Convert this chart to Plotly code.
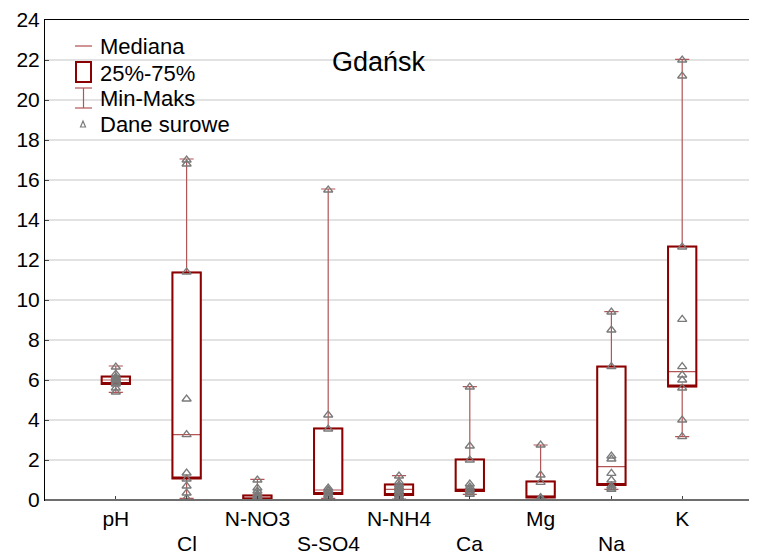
import plotly.graph_objects as go

# ---- data ----
categories = ["pH", "Cl", "N-NO3", "S-SO4", "N-NH4", "Ca", "Mg", "Na", "K"]
mins   = [5.38, 0.08, 0.02, 0.08, 0.05, 0.28, 0.03, 0.53, 3.17]
q1     = [5.80, 1.08, 0.03, 0.30, 0.25, 0.45, 0.13, 0.75, 5.67]
median = [6.00, 3.27, 0.10, 0.50, 0.53, 0.55, 0.17, 1.67, 6.42]
q3     = [6.17, 11.38, 0.23, 3.58, 0.78, 2.03, 0.93, 6.67, 12.67]
maxs   = [6.70, 17.05, 1.03, 15.55, 1.22, 5.67, 2.75, 9.42, 22.03]

raw_pH   = [5.4, 5.6, 5.8, 5.85, 5.9, 6.0, 6.0, 6.05, 6.1, 6.15, 6.3, 6.65]
raw_Cl   = [0.08, 0.35, 0.7, 1.05, 1.35, 3.27, 5.05, 11.4, 16.8, 17.0]
raw_NNO3 = [0.02, 0.05, 0.08, 0.1, 0.15, 0.2, 0.3, 0.45, 0.6, 1.0]
raw_SSO4 = [0.08, 0.15, 0.25, 0.35, 0.45, 0.5, 0.6, 3.55, 4.25, 15.5]
raw_NNH4 = [0.05, 0.15, 0.25, 0.35, 0.45, 0.55, 0.65, 0.75, 0.9, 1.2]
raw_Ca   = [0.28, 0.35, 0.45, 0.55, 0.65, 0.8, 2.0, 2.7, 5.65]
raw_Mg   = [0.03, 0.08, 0.12, 0.88, 1.25, 2.75]
raw_Na   = [0.53, 0.6, 0.7, 1.0, 1.33, 2.05, 2.2, 6.67, 8.5, 9.4]
raw_K    = [3.17, 4.0, 5.6, 6.0, 6.25, 6.67, 9.03, 12.65, 21.2, 22.0]
raw_all = [raw_pH, raw_Cl, raw_NNO3, raw_SSO4, raw_NNH4, raw_Ca, raw_Mg, raw_Na, raw_K]

y_ticks = list(range(0, 25, 2))
title_text = "Gdańsk"
legend_labels = ["Mediana", "25%-75%", "Min-Maks", "Dane surowe"]

# ---- figure (page body has an 8px margin; compensate) ----
OFF = 8
W, H = 757 - OFF, 555 - OFF
PL, PT, PR, PB = 45, 20, 753, 500          # plot area in window pixels
ML, MT = PL - OFF, PT - OFF
MR = 757 - PR
MB = 555 - PB
PW, PH = PR - PL, PB - PT

DARK = "#8B0000"
LIGHT = "#b35555"
GRAY = "#7a7a7a"
FONT = "Liberation Sans, Arial, sans-serif"

pos = list(range(len(categories)))

fig = go.Figure()
# whiskers + median (thin, lighter)
fig.add_trace(go.Box(
    x=pos, q1=q1, median=median, q3=q3, lowerfence=mins, upperfence=maxs,
    width=0.4, whiskerwidth=0.5, boxpoints=False,
    line=dict(color=LIGHT, width=1.2), fillcolor="white",
    showlegend=False, hoverinfo="skip"))
# box edges (thick, dark)
fig.add_trace(go.Box(
    x=pos, q1=q1, median=q1, q3=q3, lowerfence=q1, upperfence=q3,
    width=0.4, whiskerwidth=0.5, boxpoints=False,
    line=dict(color=DARK, width=2), fillcolor="rgba(0,0,0,0)",
    showlegend=False, hoverinfo="skip"))
# raw data
xs, ys = [], []
for i, vals in enumerate(raw_all):
    xs += [i] * len(vals)
    ys += vals
fig.add_trace(go.Scatter(
    x=xs, y=ys, mode="markers",
    marker=dict(symbol="triangle-up-open", color=GRAY, size=8, line=dict(width=1.3, color=GRAY)),
    showlegend=False))

# first row of category labels as tick labels, second row as annotations
ticktext = [c if i % 2 == 0 else "" for i, c in enumerate(categories)]

fig.update_layout(
    width=W, height=H,
    margin=dict(l=ML, r=MR, t=MT, b=MB, pad=0, autoexpand=False),
    paper_bgcolor="white", plot_bgcolor="white",
    font=dict(family=FONT, size=21, color="black"),
    boxmode="overlay",
    xaxis=dict(range=[-1, 9], tickvals=pos, ticktext=ticktext, automargin=False,
               showgrid=False, zeroline=False, showline=True, linecolor="black",
               linewidth=1, mirror=True, ticks="inside", ticklen=4,
               tickcolor="#444", tickfont=dict(size=21)),
    yaxis=dict(range=[0, 24], tickvals=y_ticks, automargin=False,
               showgrid=True, gridcolor="#e2e2e2",
               gridwidth=1.5, zeroline=False, showline=True, linecolor="black",
               linewidth=1, mirror="ticks", ticks="inside", ticklen=4,
               tickcolor="#444", tickfont=dict(size=21)),
)

def px(x):
    return (x - PL) / PW

def py(y):
    return (PB - y) / PH

shapes = []
# bottom axis line (gray)
shapes.append(dict(type="line", xref="paper", yref="paper", x0=0, x1=1, y0=0, y1=0,
                   line=dict(color="#6e6e6e", width=2)))
# legend icons
shapes.append(dict(type="line", xref="paper", yref="paper", x0=px(75), x1=px(92), y0=py(46), y1=py(46),
                   line=dict(color="#c07070", width=1.5)))
shapes.append(dict(type="rect", xref="paper", yref="paper", x0=px(76), x1=px(91), y0=py(82), y1=py(62),
                   line=dict(color=DARK, width=2), fillcolor="white"))
for yy in (88, 108):
    shapes.append(dict(type="line", xref="paper", yref="paper", x0=px(75), x1=px(92), y0=py(yy), y1=py(yy),
                       line=dict(color=LIGHT, width=1.2)))
shapes.append(dict(type="line", xref="paper", yref="paper", x0=px(83.5), x1=px(83.5), y0=py(88), y1=py(108),
                   line=dict(color=LIGHT, width=1.2)))
tri = "M {} {} L {} {} L {} {} Z".format(px(80.5), py(127), px(85.5), py(127), px(83), py(121))
shapes.append(dict(type="path", xref="paper", yref="paper", path=tri,
                   line=dict(color=GRAY, width=1.2)))
fig.update_layout(shapes=shapes)

annotations = []
for i, c in enumerate(categories):
    if i % 2 == 1:
        annotations.append(dict(text=c, xref="x", yref="paper", x=i, y=py(543),
                                xanchor="center", yanchor="middle", showarrow=False,
                                font=dict(size=21, color="black", family=FONT)))
for lbl, yy in zip(legend_labels, [46, 73, 99, 124]):
    annotations.append(dict(text=lbl, xref="paper", yref="paper", x=px(98), y=py(yy),
                            xanchor="left", yanchor="middle", showarrow=False,
                            font=dict(size=22, color="black", family=FONT)))
annotations.append(dict(text=title_text, xref="paper", yref="paper", x=px(379), y=py(62),
                        xanchor="center", yanchor="middle", showarrow=False,
                        font=dict(size=27, color="black", family=FONT)))
fig.update_layout(annotations=annotations)

fig.write_html("out.html")
